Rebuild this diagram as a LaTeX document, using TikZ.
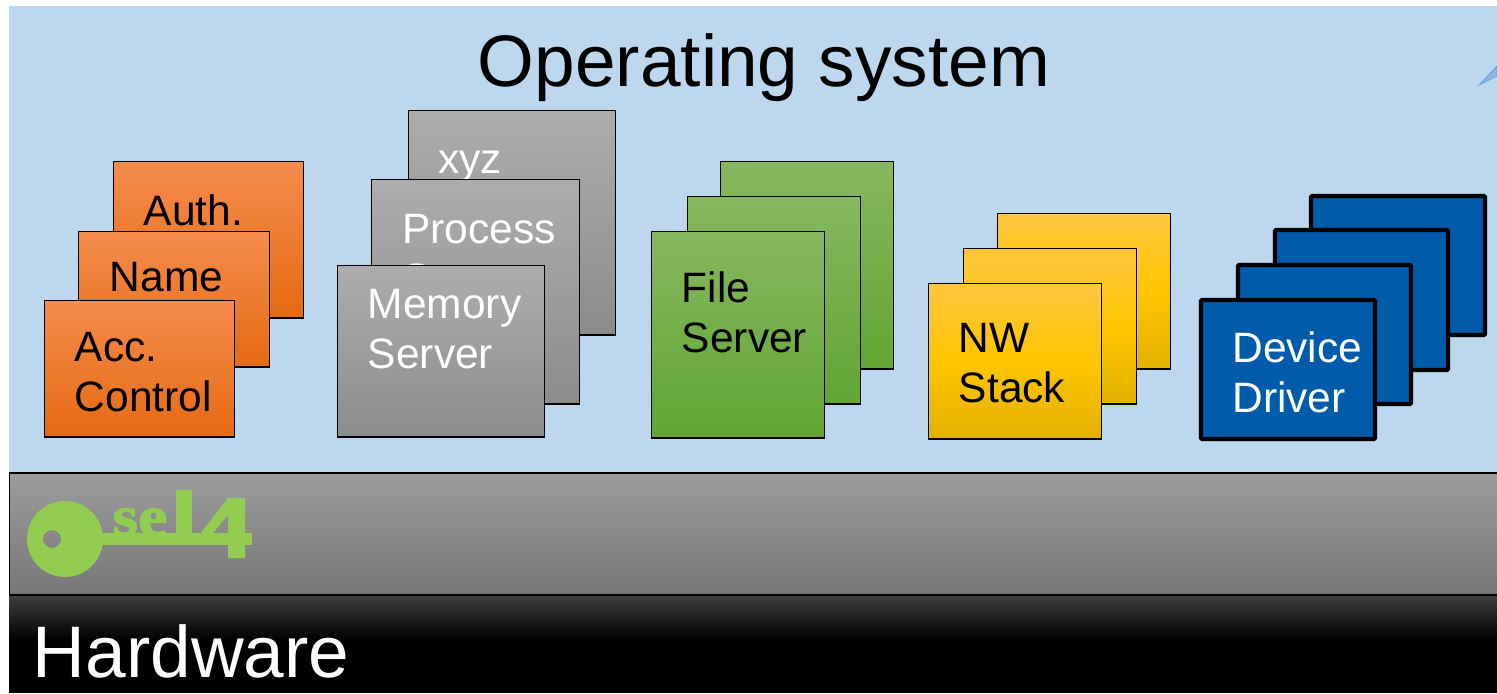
\documentclass[tikz,border=0pt]{standalone}
\usepackage{fontspec}
\setmainfont{Liberation Sans}
\newfontfamily\logofont[UprightFont={* Bold},FakeBold=2]{Liberation Serif}
\definecolor{osbg}{HTML}{BDD7EE}
\definecolor{keygreen}{HTML}{92CC50}
\definecolor{arrowfill}{HTML}{8DB4E2}
\definecolor{arrowedge}{HTML}{5B9BD5}
\definecolor{F1}{HTML}{F58C4D}\definecolor{F2}{HTML}{E56A12}
\definecolor{G1}{HTML}{ADADAD}\definecolor{G2}{HTML}{8C8C8C}
\definecolor{N1}{HTML}{85B85F}\definecolor{N2}{HTML}{62A534}
\definecolor{Y1}{HTML}{FFC640}\definecolor{Y2}{HTML}{E2B100}\definecolor{Y3}{HTML}{FFC600}
\definecolor{B1}{HTML}{005BAA}
\definecolor{L1}{HTML}{9C9C9C}\definecolor{L2}{HTML}{777777}
\definecolor{H1}{HTML}{3E3E3E}
\tikzset{
  pbox/.style={draw=black,line width=0.65pt,rectangle,inner sep=0pt,outer sep=0pt,anchor=north west},
  orangebox/.style={pbox,top color=F1,bottom color=F2},
  graybox/.style={pbox,top color=G1,bottom color=G2},
  greenbox/.style={pbox,top color=N1,bottom color=N2},
  yellowbox/.style={pbox,top color=Y1,bottom color=Y2,middle color=Y3},
  bluebox/.style={pbox,fill=B1,line width=2.15pt,rounded corners=0.6pt},
  lbl/.style={inner sep=0pt,anchor=base west,align=left,font=\fontsize{21.25}{25}\selectfont},
  big/.style={inner sep=0pt,anchor=base west,font=\fontsize{36.5}{40}\selectfont},
}
\newcommand{\pb}[6]{\node[#1,minimum width={(#4-#2)*0.5pt},minimum height={(#5-#3)*0.5pt}] (#6) at (#2,#3) {};}
\newcommand{\pin}[6]{\node[#1,minimum width={(#4-#2-1)*0.5pt},minimum height={(#5-#3-0.5)*0.5pt}] (#6) at (#2+0.5,#3+0.5) {};}
\begin{document}
\begin{tikzpicture}[x=0.5pt,y=-0.5pt]
\useasboundingbox (0,0) rectangle (1497,693);
\fill[white] (0,0) rectangle (1497,693);
\fill[osbg] (9,6) rectangle (1497,473);
\filldraw[fill=arrowfill,draw=arrowedge,line width=0.3pt] (1479,85) -- (1497,66) -- (1497,76) -- cycle;
\node[big] (ostitle) at (477.5,86) {Operating system};
% orange
\pin{orangebox}{113}{161}{304}{318}{auth}
\node[lbl] (authT) at (143.5,225) {Auth.};
\pin{orangebox}{78}{231}{270}{367}{name}
\node[lbl] (nameT) at (109.5,291) {Name};
\pin{orangebox}{44}{300}{235}{437}{acc}
\node[lbl] (accT) at (74.5,411) {Acc.\\Control};
% gray
\pin{graybox}{408}{110}{616}{335}{xyz}
\node[lbl,white] (xyzT) at (438,173) {xyz};
\pin{graybox}{371}{179}{580}{404}{proc}
\node[lbl,white] (procT) at (402,293) {Process\\Server};
\pin{graybox}{337}{265}{545}{437}{mem}
\node[lbl,white] (memT) at (367.5,368) {Memory\\Server};
% green
\pin{greenbox}{720}{161}{894}{369}{g1}
\pin{greenbox}{687}{196}{861}{404}{g2}
\pin{greenbox}{651}{231}{825}{438}{g3}
\node[lbl] (fileT) at (681.5,352) {File\\Server};
% yellow
\pin{yellowbox}{997}{213}{1171}{369}{y1}
\pin{yellowbox}{963}{248}{1137}{404}{y2}
\pin{yellowbox}{928}{283}{1102}{439}{y3}
\node[lbl] (nwT) at (958.5,402.5) {NW\\Stack};
% blue
\pb{bluebox}{1311}{196}{1485}{335}{b1}
\pb{bluebox}{1275}{230}{1448}{370}{b2}
\pb{bluebox}{1238}{265}{1411}{404}{b3}
\pb{bluebox}{1201}{300}{1375}{439}{b4}
\node[lbl,white] (devT) at (1232,412) {Device\\Driver};
% layers
\pb{pbox,top color=L1,bottom color=L2}{9.5}{473}{1520}{595}{sel}
\pb{pbox,draw=none,top color=H1,bottom color=black}{9}{595}{1497}{640}{hwtop}
\fill[black] (9,639.5) rectangle (1497,693);
\draw[line width=0.65pt] (9,595) -- (1497,595);
\node[big,white] (hwT) at (32.5,677) {Hardware};
% logo
\fill[keygreen,even odd rule] (65,539) circle[radius=38] (52,539) circle[radius=9];
\fill[keygreen] (100,533) rectangle (252,545);
\fill[keygreen] (176,490) rectangle (192,535);
\fill[keygreen,even odd rule] (200,534) -- (228,498) -- (245,498) -- (245,558) -- (228,558) -- (228,534) -- cycle (213,533) -- (228,515) -- (228,533) -- cycle;
\node[inner sep=0pt,anchor=base west,keygreen,font=\logofont\fontsize{33}{34}\selectfont] (seT) at (112,535) {\scalebox{1}[0.85]{se}};
\end{tikzpicture}
\end{document}
